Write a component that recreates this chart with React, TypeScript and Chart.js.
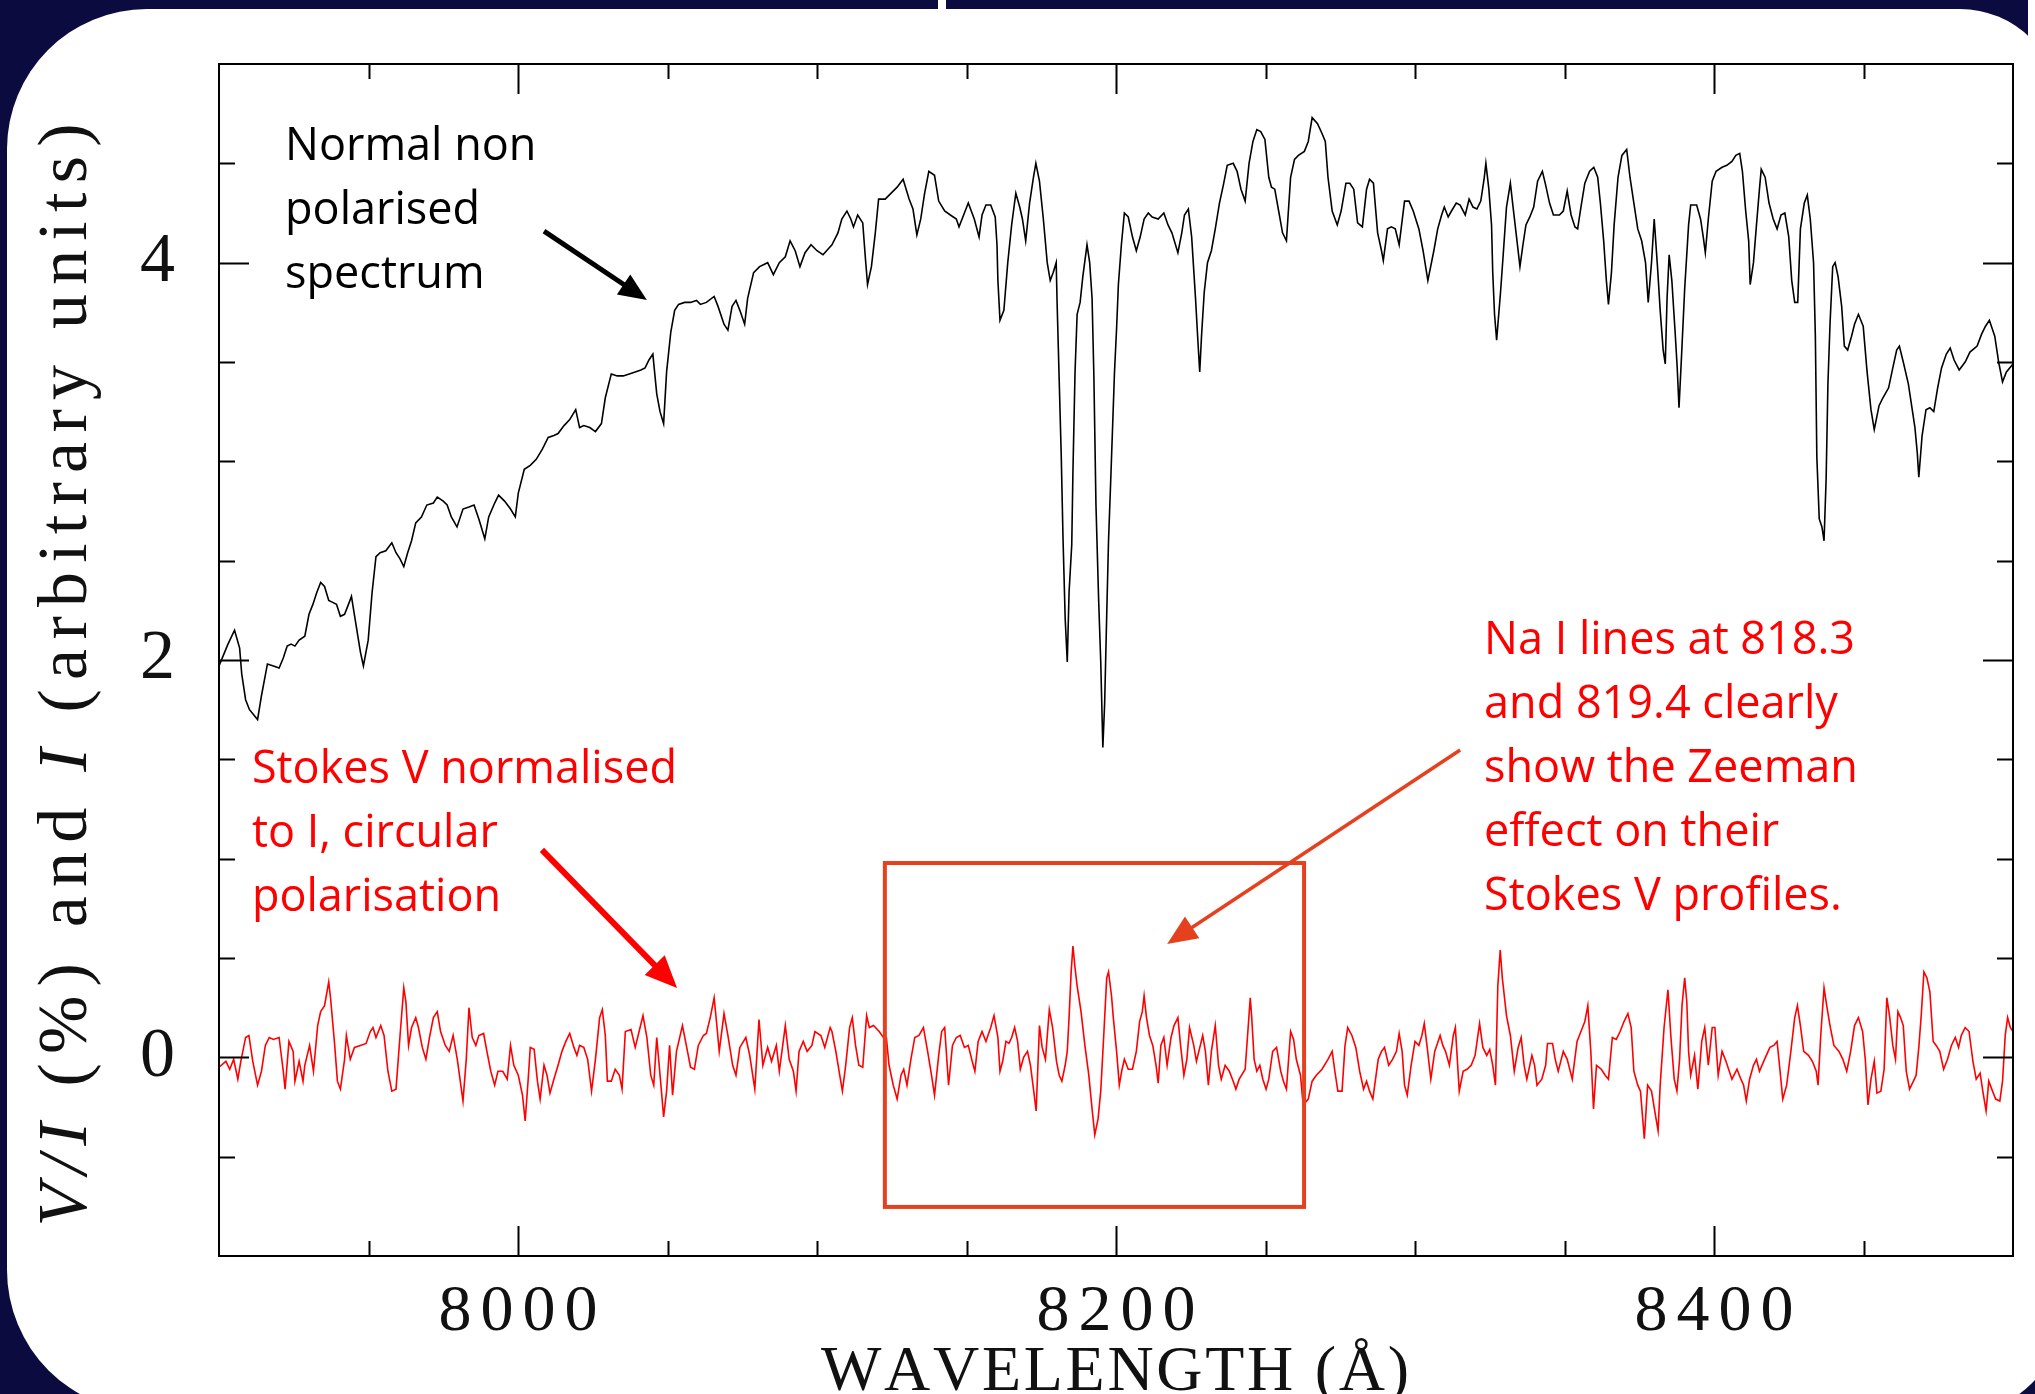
import React, { useEffect, useRef } from 'react';
import { Chart, registerables } from 'chart.js';

Chart.register(...registerables);

// ---------------- DATA ----------------
// Stokes I (normal, non-polarised spectrum): [wavelength (Å), flux (arbitrary units)]
const STOKES_I_BLUE: [number, number][] = [
  [7900, 1.97], [7903, 2.08], [7905.2, 2.15], [7906.9, 2.06], [7907.6, 1.93], [7908.9, 1.8], [7910.2, 1.75], [7912.9, 1.7], [7914.2, 1.82], [7916.2, 1.98],
  [7918.2, 1.97], [7920.1, 1.96], [7921.5, 2.01], [7922.8, 2.07], [7924.1, 2.08], [7925.4, 2.07], [7926.8, 2.1], [7928.7, 2.12], [7930.1, 2.23], [7931.4, 2.28],
  [7932.7, 2.34], [7934, 2.39], [7935.3, 2.37], [7936.7, 2.3], [7938, 2.29], [7939.3, 2.28], [7940.6, 2.22], [7942, 2.23], [7943.3, 2.28], [7944.3, 2.32],
  [7945.9, 2.17], [7947.3, 2.04], [7948.3, 1.97], [7949.9, 2.1], [7951.2, 2.34], [7952.5, 2.52], [7953.9, 2.54], [7955.8, 2.55], [7957.8, 2.59], [7959.2, 2.54],
  [7960.5, 2.51], [7961.8, 2.47], [7963.1, 2.54], [7964.4, 2.6], [7965.8, 2.69], [7967.7, 2.72], [7969.5, 2.78], [7971.7, 2.79], [7973, 2.82], [7975, 2.8],
  [7976.3, 2.78], [7977.7, 2.72], [7979.6, 2.67], [7981.6, 2.76], [7983.6, 2.77], [7985.3, 2.78], [7986.9, 2.71], [7988.9, 2.61], [7990.2, 2.72], [7992.2, 2.79],
  [7993.5, 2.83], [7995.5, 2.8], [7997.5, 2.76], [7999.1, 2.72], [8000.1, 2.84], [8002.1, 2.96], [8004.1, 2.98], [8006.1, 3.01], [8008.1, 3.06], [8010.1, 3.12],
  [8012, 3.13], [8013.4, 3.14], [8015.4, 3.18], [8017.3, 3.21], [8019.3, 3.26], [8020.6, 3.17], [8022, 3.18], [8024, 3.17], [8025.9, 3.15], [8027.9, 3.19],
  [8029.2, 3.32], [8031.2, 3.44], [8033.2, 3.43], [8035.2, 3.43], [8037.2, 3.44], [8039.2, 3.45], [8041.1, 3.46], [8042.5, 3.47], [8043.8, 3.51], [8045.1, 3.54],
  [8046.4, 3.34], [8047.5, 3.25], [8048.7, 3.19], [8049.7, 3.45], [8051.1, 3.65], [8052.4, 3.76], [8053.7, 3.79], [8055.7, 3.8], [8057.7, 3.8], [8059.7, 3.81],
  [8061, 3.79], [8063, 3.8], [8065.6, 3.83], [8066.9, 3.78], [8068.9, 3.69], [8070.2, 3.66], [8071.6, 3.78], [8072.9, 3.81], [8074.2, 3.76], [8075.8, 3.69],
  [8076.8, 3.82], [8078.8, 3.95], [8080.8, 3.98], [8083.5, 4.0], [8085.4, 3.94], [8087.4, 4.0], [8089.4, 4.03], [8091, 4.11], [8092.7, 4.06], [8094.3, 3.98],
  [8096, 4.05], [8098, 4.09], [8100, 4.06], [8102, 4.04],
];

const STOKES_I_MID: [number, number][] = [
  [8105, 4.09], [8107, 4.15], [8108.3, 4.22], [8110, 4.26], [8111.3, 4.22], [8112.2, 4.18], [8113.6, 4.24], [8115.3, 4.2], [8116.2, 4.02], [8116.9, 3.89],
  [8118.2, 3.98], [8119.5, 4.15], [8120.6, 4.32], [8122.8, 4.32], [8124.8, 4.35], [8126.8, 4.38], [8128.8, 4.42], [8130.8, 4.32], [8132.1, 4.27], [8133.4, 4.14],
  [8134.7, 4.22], [8136, 4.35], [8137.4, 4.46], [8139.3, 4.44], [8140.7, 4.31], [8142.7, 4.26], [8144.6, 4.24], [8146.6, 4.22], [8147.5, 4.18], [8149.3, 4.25],
  [8150.6, 4.3], [8152.6, 4.22], [8154.2, 4.13], [8155.2, 4.24], [8156.5, 4.29], [8158.1, 4.29], [8159.6, 4.23], [8160.2, 4.09], [8160.5, 3.91], [8161.2, 3.71],
  [8162.5, 3.76], [8163.8, 4.0], [8165.1, 4.19], [8166.5, 4.35], [8167.8, 4.28], [8168.7, 4.22], [8169.8, 4.11], [8171.1, 4.3], [8172.4, 4.43], [8173.2, 4.5],
  [8174.4, 4.41], [8175.7, 4.22], [8177, 4.0], [8178, 3.91], [8179, 3.95], [8180, 4.0], [8180.3, 3.8], [8181, 3.41], [8181.7, 3.02], [8182.3, 2.6],
  [8183, 2.21], [8183.7, 1.99], [8184.3, 2.34], [8185.2, 2.58], [8185.6, 2.95], [8186.3, 3.45], [8187, 3.74], [8188, 3.8], [8188.9, 3.93], [8190.3, 4.09],
  [8191.2, 4.0], [8192, 3.82], [8192.6, 3.43], [8193.3, 2.78], [8194.2, 2.3], [8194.9, 1.99], [8195.6, 1.56], [8196.2, 1.78], [8196.9, 2.23], [8197.5, 2.6],
  [8198.2, 2.89], [8198.9, 3.19], [8199.5, 3.45], [8200.2, 3.67], [8200.8, 3.89], [8201.8, 4.09], [8202.8, 4.25], [8204.1, 4.23], [8205.5, 4.13], [8206.8, 4.06],
  [8208.1, 4.13], [8209.4, 4.22], [8210.8, 4.25], [8212.1, 4.23], [8214.1, 4.22], [8216, 4.25], [8217.4, 4.19], [8218.7, 4.15], [8220.7, 4.05], [8222, 4.15],
  [8222.9, 4.24], [8224.2, 4.27], [8225.3, 4.13], [8226.6, 3.82], [8227.3, 3.63], [8228, 3.45], [8228.6, 3.63], [8229.5, 3.85], [8230.6, 4.0], [8231.9, 4.06],
  [8233.2, 4.17], [8234.6, 4.3], [8235.9, 4.39], [8237.2, 4.49], [8239.2, 4.5], [8240.5, 4.46], [8241.8, 4.37], [8243.2, 4.31], [8244.5, 4.5], [8245.8, 4.61],
  [8247.1, 4.67], [8248.4, 4.66], [8249.8, 4.62], [8251.1, 4.43], [8252, 4.38], [8253.1, 4.37], [8254.4, 4.26], [8255.7, 4.15], [8257, 4.11], [8258.4, 4.43],
  [8259.7, 4.52], [8261, 4.54], [8263, 4.56], [8264.3, 4.61], [8265.6, 4.73], [8267.4, 4.7], [8268.9, 4.65], [8270, 4.61], [8270.9, 4.43], [8272.3, 4.26],
  [8274, 4.19], [8275.3, 4.26], [8276.9, 4.4], [8278.2, 4.4], [8279.5, 4.37], [8280.8, 4.2], [8282.4, 4.18], [8283.8, 4.37], [8284.8, 4.42], [8286.1, 4.4],
  [8287.5, 4.15], [8288.8, 4.06], [8289.4, 4.01], [8290.8, 4.17], [8292.1, 4.18], [8293.4, 4.17], [8294.7, 4.09], [8296.5, 4.31], [8298, 4.31], [8299.4, 4.26],
  [8301.3, 4.17], [8302.7, 4.06], [8304.3, 3.91],
];

const STOKES_I_RED: [number, number][] = [
  [8306.3, 4.06], [8307.6, 4.17], [8308.9, 4.24], [8309.8, 4.28], [8311.1, 4.23], [8312.2, 4.26], [8313.8, 4.3], [8315.1, 4.29], [8316.8, 4.24], [8318.1, 4.32],
  [8319.4, 4.28], [8320.7, 4.27], [8322, 4.31], [8323.1, 4.42], [8323.7, 4.5], [8324.7, 4.37], [8325.6, 4.19], [8326, 3.95], [8326.6, 3.74], [8327.3, 3.61],
  [8328.6, 3.85], [8329.5, 4.04], [8330.6, 4.28], [8331.9, 4.4], [8332.8, 4.28], [8333.8, 4.15], [8335.1, 3.98], [8336.1, 4.09], [8337.1, 4.19], [8338.4, 4.23],
  [8339.7, 4.28], [8341, 4.41], [8342.6, 4.46], [8343.7, 4.39], [8345, 4.3], [8346.3, 4.24], [8348.3, 4.24], [8349.6, 4.26], [8350.9, 4.36], [8352.2, 4.24],
  [8353.5, 4.18], [8354.4, 4.17], [8355.5, 4.28], [8356.8, 4.4], [8358.4, 4.46], [8359.8, 4.48], [8361.1, 4.43], [8362, 4.3], [8363.1, 4.11], [8364, 3.91],
  [8364.7, 3.79], [8365.7, 3.95], [8366.6, 4.19], [8367.9, 4.43], [8369.2, 4.54], [8370.8, 4.57], [8371.9, 4.43], [8373.2, 4.3], [8374.5, 4.17], [8375.8, 4.11],
  [8377.1, 4.0], [8378, 3.8], [8379.1, 4.0], [8380, 4.22], [8381.1, 3.98], [8382, 3.76], [8383, 3.56], [8383.7, 3.49], [8384.3, 3.82], [8385, 4.04],
  [8385.9, 3.91], [8387, 3.65], [8387.7, 3.47], [8388.3, 3.27], [8389.3, 3.58], [8390.2, 3.87], [8391.5, 4.19], [8392.2, 4.29], [8394.2, 4.29], [8395.5, 4.22],
  [8396.4, 4.13], [8397.1, 4.05], [8398.1, 4.22], [8399.4, 4.41], [8400.7, 4.46], [8402.7, 4.48], [8404.3, 4.49], [8406, 4.51], [8407.3, 4.54], [8408.6, 4.55],
  [8409.5, 4.46], [8410.6, 4.26], [8411.6, 4.11], [8412.1, 3.89], [8413.2, 4.0], [8414.1, 4.17], [8415.2, 4.37], [8415.8, 4.47], [8417.1, 4.43], [8418.4, 4.3],
  [8419.8, 4.22], [8421.1, 4.17], [8422.4, 4.24], [8423.7, 4.25], [8425, 4.13], [8426, 3.91], [8427, 3.8], [8428, 3.8], [8428.9, 4.17], [8430.2, 4.3],
  [8431.2, 4.34], [8432.2, 4.22], [8433.3, 4.0], [8433.9, 3.63], [8434.4, 3.02], [8435.2, 2.71], [8436.1, 2.67], [8436.8, 2.6], [8437.5, 2.91], [8438.1, 3.39],
  [8438.8, 3.69], [8439.7, 3.98], [8440.5, 4.0], [8441.5, 3.93], [8442.7, 3.78], [8443.6, 3.58], [8444.7, 3.56], [8446, 3.63], [8447, 3.69], [8448.3, 3.74],
  [8449.9, 3.68], [8451.2, 3.45], [8452.5, 3.26], [8453.6, 3.16], [8455.2, 3.28], [8456.5, 3.32], [8458.4, 3.37], [8459.8, 3.47], [8461.1, 3.56], [8462, 3.58],
  [8463.3, 3.5], [8465, 3.39], [8466.3, 3.26], [8467.2, 3.17], [8468, 3.04], [8468.5, 2.92], [8469.6, 3.13], [8470.9, 3.26], [8472.2, 3.27], [8473.5, 3.25],
  [8474.8, 3.37], [8476.1, 3.47], [8477.7, 3.54], [8479, 3.57], [8480.3, 3.51], [8482, 3.46], [8484, 3.5], [8485.6, 3.55], [8488, 3.58], [8489.5, 3.64],
  [8490.8, 3.68], [8492.1, 3.71], [8493.9, 3.63], [8495.2, 3.5], [8496.5, 3.4], [8497.8, 3.45], [8500, 3.49],
];

// Stokes V / I (%): [wavelength (Å), V/I]
const STOKES_V_BLUE: [number, number][] = [
  [7900, -0.05], [7902.3, -0.02], [7903.6, -0.06], [7904.9, -0.01], [7906.3, -0.11], [7907.3, -0.02], [7908.9, 0.1], [7910, 0.11], [7911.3, -0.02], [7912.9, -0.14],
  [7914.2, -0.07], [7915.5, 0.06], [7916.8, 0.1], [7918.2, 0.09], [7920.1, 0.1], [7921.5, -0.07], [7922.1, -0.16], [7923.4, 0.08], [7924.8, 0.03], [7925.4, -0.12],
  [7926.8, -0.02], [7928.1, -0.12], [7928.7, -0.04], [7930.3, 0.06], [7931.6, -0.07], [7933, 0.16], [7934, 0.23], [7935.3, 0.26], [7936.7, 0.38], [7937.3, 0.3],
  [7938.7, 0.06], [7939.6, -0.12], [7940.6, -0.16], [7942, -0.01], [7942.6, 0.11], [7943.9, -0.01], [7945.3, 0.05], [7947.3, 0.06], [7949.2, 0.07], [7950.6, 0.13],
  [7951.5, 0.15], [7952.5, 0.1], [7954.1, 0.16], [7955.2, 0.11], [7956.5, -0.07], [7957.8, -0.17], [7959.2, -0.16], [7960.5, 0.1], [7961.8, 0.35], [7962.5, 0.28],
  [7963.4, 0.06], [7964.4, 0.15], [7965.8, 0.2], [7966.7, 0.15], [7968, 0.05], [7969.2, -0.01], [7970.4, 0.1], [7971.7, 0.2], [7973, 0.23], [7974.1, 0.13],
  [7975.7, 0.06], [7977, 0.03], [7978.3, 0.11], [7979.7, -0.01], [7980.6, -0.11], [7981.6, -0.22], [7982.7, -0.01], [7983.6, 0.25], [7984.7, 0.1], [7985.9, 0.06],
  [7986.9, 0.11], [7988.5, 0.12], [7989.6, 0.03], [7990.9, -0.07], [7992.2, -0.14], [7993.3, -0.07], [7994.9, -0.07], [7996.4, -0.11], [7997.5, 0.06], [7998.6, -0.04],
  [8000.1, -0.09], [8001.5, -0.19], [8002.4, -0.32], [8003.5, -0.09], [8004.1, 0.05], [8005.4, 0.04], [8006.5, -0.12], [8007.4, -0.21], [8008.7, -0.04], [8009.7, -0.09],
  [8010.7, -0.18], [8012, -0.11], [8013.4, -0.04], [8014.7, 0.03], [8016, 0.08], [8017.3, 0.12], [8018.7, 0.05], [8019.7, 0.01], [8020.6, 0.06], [8022, 0.05],
  [8023.3, -0.01], [8024.6, -0.17], [8025.9, -0.01], [8027.3, 0.2], [8028.2, 0.24], [8029.2, 0.11], [8029.9, -0.12], [8031.2, -0.12], [8032.5, -0.06], [8033.9, -0.09],
  [8034.8, -0.16], [8035.9, 0.13], [8037.8, 0.14], [8039.2, 0.05], [8040.5, 0.13], [8041.8, 0.21], [8043.1, 0.1], [8044.4, -0.09], [8045.4, -0.14], [8046.4, 0.1],
  [8047.8, -0.14], [8048.7, -0.3], [8049.7, -0.17], [8050.7, 0.06], [8051.7, -0.19], [8053, 0.03], [8055, 0.16], [8056.3, 0.06], [8057.7, -0.05], [8059, -0.06],
  [8060.3, 0.06], [8062, 0.11], [8063, 0.12], [8064.3, 0.2], [8065.6, 0.3], [8066.5, 0.16], [8067.3, 0.03], [8068.9, 0.22], [8070.2, 0.11], [8071.8, -0.04],
  [8072.9, -0.09], [8074.2, 0.05], [8076.2, 0.1], [8077.5, 0.01], [8079.2, -0.16], [8080.6, 0.19], [8081.9, -0.04], [8083.5, 0.05], [8084.8, -0.02], [8086.4, 0.06],
  [8087.4, -0.07], [8089.4, 0.16], [8090.7, -0.01], [8092.1, -0.07], [8093, -0.17], [8094, 0.03], [8095.4, 0.08], [8096.7, 0.03], [8098.3, 0.06], [8099.3, 0.13],
  [8101.3, 0.11], [8102.6, 0.05], [8104.4, 0.15],
];

const STOKES_V_MID: [number, number][] = [
  [8105, 0.13], [8106.3, 0.03], [8107.6, -0.09], [8108.5, -0.17], [8109.6, -0.04], [8110.9, 0.15], [8111.8, 0.2], [8112.9, 0.06], [8114, -0.04], [8115.3, -0.05],
  [8116.6, 0.21], [8117.5, 0.15], [8118.9, 0.16], [8120.8, 0.13], [8122.2, 0.1], [8123.2, 0.1], [8124.1, -0.04], [8125.5, -0.14], [8126.8, -0.21], [8128.1, -0.09],
  [8129, -0.06], [8130.1, -0.14], [8131.4, -0.01], [8132.7, 0.1], [8134.1, 0.11], [8135.6, 0.15], [8137, 0.03], [8138.3, -0.09], [8139.3, -0.19], [8140.7, 0.01],
  [8141.7, 0.13], [8142.7, 0.15], [8144, -0.14], [8145.3, 0.06], [8146.6, 0.1], [8147.9, 0.11], [8149.3, 0.05], [8150.6, 0.06], [8151.9, -0.02], [8152.8, -0.07],
  [8153.9, 0.08], [8155.2, 0.13], [8156.5, 0.08], [8158.1, 0.15], [8159.2, 0.21], [8160.5, 0.1], [8161.2, -0.07], [8162.1, -0.02], [8163.2, 0.08], [8164.2, 0.07],
  [8165.1, 0.1], [8166.1, 0.15], [8167.1, 0.08], [8168, -0.06], [8169.1, 0.0], [8170.4, 0.03], [8171.4, -0.04], [8172.4, -0.16], [8173.3, -0.27], [8174.4, 0.16],
  [8175.3, 0.05], [8176.4, -0.01], [8177.7, 0.24], [8178.8, 0.15], [8180.1, -0.02], [8181, -0.09], [8181.9, -0.12], [8183, -0.04], [8183.7, 0.03], [8184.3, 0.2],
  [8185, 0.43], [8185.6, 0.56], [8186.3, 0.45], [8187, 0.36], [8188.3, 0.23], [8189.6, 0.06], [8190.9, -0.09], [8192, -0.26], [8192.9, -0.39], [8194, -0.31],
  [8194.9, -0.17], [8195.9, 0.11], [8196.9, 0.4], [8197.5, 0.43], [8198.5, 0.31], [8199.1, 0.2], [8200.2, 0.03], [8201.1, -0.14], [8201.9, -0.07], [8202.8, -0.01],
  [8204.1, -0.06], [8205.5, -0.06], [8206.8, 0.03], [8207.9, 0.18], [8208.8, 0.23], [8209.4, 0.31], [8210.2, 0.2], [8211.2, 0.11], [8212.3, 0.06], [8213.4, -0.04],
  [8214.1, -0.13], [8215, 0.06], [8216, 0.1], [8217.1, -0.04], [8218.4, 0.1], [8219.4, 0.16], [8220.7, 0.2], [8221.6, 0.06], [8222.7, -0.09], [8223.7, -0.01],
  [8224.6, 0.15], [8226, 0.06], [8226.9, -0.02], [8228.2, 0.06], [8229, 0.11], [8229.9, 0.03], [8230.9, -0.14], [8231.9, 0.03], [8233.2, 0.16], [8234.3, -0.04],
  [8235.2, -0.11], [8236.5, -0.04], [8237.9, -0.07], [8239.2, -0.12], [8240.1, -0.16], [8241.2, -0.11], [8243.2, -0.06], [8244.1, 0.13], [8244.9, 0.3], [8245.4, 0.2],
  [8246.2, -0.01], [8247.1, -0.07], [8248.1, -0.04], [8249.1, -0.11], [8250.2, -0.16], [8251.1, -0.11], [8252.4, 0.03], [8253.7, 0.05], [8255.1, -0.07], [8256, -0.12],
  [8257, -0.16], [8258.4, 0.13], [8259.4, 0.09], [8260.3, -0.01], [8261.7, -0.09], [8262.6, -0.24], [8264.3, -0.21], [8265.6, -0.12], [8267, -0.09], [8268.9, -0.06],
  [8270.9, -0.01], [8272.3, 0.03], [8273.2, -0.07], [8274.2, -0.17], [8275.6, -0.17], [8276.6, 0.06], [8277.5, 0.15], [8278.9, 0.11], [8280.2, 0.05], [8281.5, -0.07],
  [8282.8, -0.16], [8283.8, -0.12], [8284.8, -0.17], [8285.9, -0.21], [8286.8, -0.11], [8287.7, -0.01], [8288.8, 0.03], [8289.8, 0.05], [8291.2, -0.04], [8292.5, -0.01],
  [8293.8, 0.03], [8294.7, 0.12], [8295.7, 0.03], [8296.5, -0.14], [8297.4, -0.19], [8298.7, -0.04], [8300, 0.08], [8301.3, 0.06], [8302.3, 0.11], [8303.1, 0.17],
  [8304, 0.06], [8305.3, -0.11], [8306.6, 0.03], [8308.4, 0.11],
];

const STOKES_V_RED: [number, number][] = [
  [8309.3, 0.06], [8310.2, 0.03], [8311.5, -0.04], [8312.8, 0.11], [8313.5, 0.15], [8314.8, -0.17], [8316.1, -0.07], [8317.4, -0.06], [8318.8, -0.04], [8320.1, 0.01],
  [8321.6, 0.17], [8322.7, 0.05], [8324, 0.01], [8325, 0.04], [8326, -0.04], [8326.9, -0.14], [8327.7, 0.36], [8328.5, 0.54], [8329.2, 0.4], [8330.6, 0.21],
  [8331.9, 0.11], [8333.2, -0.07], [8334.5, 0.05], [8335.5, 0.1], [8336.5, -0.04], [8337.4, -0.11], [8339.1, 0.01], [8340, -0.04], [8340.8, -0.14], [8342.4, -0.11],
  [8343.7, -0.04], [8344.3, 0.07], [8346, 0.07], [8346.9, -0.01], [8347.9, -0.07], [8349.6, 0.03], [8350.9, -0.01], [8352.6, -0.11], [8354.2, 0.08], [8355.5, 0.13],
  [8356.8, 0.18], [8357.8, 0.26], [8358.8, 0.03], [8359.7, -0.26], [8360.7, -0.04], [8362.3, -0.06], [8363.6, -0.09], [8364.7, -0.11], [8366, 0.1], [8367.3, 0.09],
  [8368.6, 0.13], [8369.9, 0.18], [8371.2, 0.22], [8372.3, 0.15], [8373.2, -0.07], [8374.5, -0.14], [8375.4, -0.17], [8376.7, -0.41], [8377.8, -0.14], [8379.1, -0.17],
  [8380.4, -0.29], [8381.3, -0.37], [8382, -0.14], [8383.3, 0.15], [8384.6, 0.34], [8385.6, 0.1], [8386.7, -0.11], [8387.6, -0.17], [8388.5, -0.01], [8389.3, 0.26],
  [8390.2, 0.4], [8390.9, 0.28], [8391.5, 0.03], [8392.2, -0.09], [8393.5, 0.01], [8394.6, -0.16], [8395.9, 0.08], [8396.9, 0.15], [8398.1, -0.04], [8399.4, 0.15],
  [8400.3, 0.15], [8401.4, -0.09], [8402.7, 0.03], [8404, -0.02], [8406, -0.11], [8407.7, -0.06], [8409, -0.11], [8409.9, -0.14], [8410.8, -0.22], [8411.9, -0.11],
  [8413.2, -0.04], [8414.2, -0.01], [8415.2, -0.07], [8416.9, -0.01], [8418.7, 0.05], [8420, 0.06], [8421.1, 0.08], [8422.1, -0.07], [8423, -0.21], [8424.3, -0.14],
  [8425.7, 0.03], [8427, 0.2], [8427.9, 0.26], [8428.9, 0.16], [8430, 0.03], [8431.6, 0.01], [8432.9, -0.02], [8434.2, -0.07], [8434.8, -0.14], [8435.7, 0.11],
  [8436.8, 0.35], [8437.7, 0.26], [8438.8, 0.16], [8440.1, 0.06], [8441.8, 0.03], [8443.1, -0.01], [8444.4, -0.07], [8445.7, 0.03], [8447, 0.16], [8448.3, 0.2],
  [8449.7, 0.13], [8450.6, -0.01], [8451.5, -0.24], [8452.5, -0.11], [8453.6, -0.02], [8454.5, -0.18], [8455.8, -0.17], [8456.9, -0.06], [8457.8, 0.3], [8458.7, 0.21],
  [8459.8, 0.06], [8460.7, -0.01], [8461.5, 0.23], [8462.4, 0.2], [8463.3, 0.16], [8464.3, -0.07], [8465.4, -0.16], [8466.7, -0.12], [8467.6, -0.09], [8468.5, 0.05],
  [8469.3, 0.21], [8470.2, 0.43], [8471.2, 0.4], [8472.2, 0.33], [8473.3, 0.08], [8474.3, 0.06], [8475.5, 0.03], [8476.8, -0.06], [8478.1, -0.01], [8479.4, 0.06],
  [8480.7, 0.1], [8481.8, 0.05], [8482.7, 0.11], [8484, 0.15], [8485.3, 0.13], [8486.6, -0.02], [8487.7, -0.11], [8489, -0.08], [8489.9, -0.17], [8491, -0.27],
  [8491.9, -0.12], [8492.9, -0.16], [8494.2, -0.21], [8495.6, -0.22], [8496.5, -0.12], [8497.4, 0.11], [8498.2, 0.2], [8499.1, 0.15], [8500, 0.13],
];

const X_TICK_LABELS = [8000, 8200, 8400];
const Y_TICK_LABELS = [0, 2, 4];
const X_TITLE = 'WAVELENGTH (Å)';
const Y_TITLE_PARTS: { text: string; italic: boolean }[] = [
  { text: 'V/I', italic: true },
  { text: ' (%) and ', italic: false },
  { text: 'I', italic: true },
  { text: ' (arbitrary units)', italic: false },
];

// Annotations (text lines, anchored in data units)
const NOTE_SPECTRUM = ['Normal non', 'polarised', 'spectrum'];
const NOTE_STOKES = ['Stokes V normalised', 'to I, circular', 'polarisation'];
const NOTE_NA = ['Na I lines at 818.3', 'and 819.4 clearly', 'show the Zeeman', 'effect on their', 'Stokes V profiles.'];

// ---------------- STYLE ----------------
const NAVY = '#0b0b40';
const RED = '#ff0000';
const ORANGE_RED = '#e6411f';
const SERIF = '"Liberation Serif", "DejaVu Serif", serif';
const SANS = '"Open Sans", "Noto Sans", sans-serif';

function spacedWidth(ctx: CanvasRenderingContext2D, text: string, spacing: number) {
  let w = 0;
  const chars = Array.from(text);
  chars.forEach((c) => (w += ctx.measureText(c).width));
  return w + spacing * (chars.length - 1);
}

function drawSpaced(ctx: CanvasRenderingContext2D, text: string, x: number, y: number, spacing: number, align: 'left' | 'center' | 'right') {
  const total = spacedWidth(ctx, text, spacing);
  let cx = align === 'center' ? x - total / 2 : align === 'right' ? x - total : x;
  ctx.textAlign = 'left';
  Array.from(text).forEach((c) => {
    ctx.fillText(c, cx, y);
    cx += ctx.measureText(c).width + spacing;
  });
}

function drawArrow(ctx: CanvasRenderingContext2D, x1: number, y1: number, x2: number, y2: number, color: string, width: number, headLen: number, headW: number) {
  const ang = Math.atan2(y2 - y1, x2 - x1);
  const bx = x2 - Math.cos(ang) * headLen;
  const by = y2 - Math.sin(ang) * headLen;
  ctx.save();
  ctx.strokeStyle = color;
  ctx.fillStyle = color;
  ctx.lineWidth = width;
  ctx.lineCap = 'butt';
  ctx.beginPath();
  ctx.moveTo(x1, y1);
  ctx.lineTo(bx + Math.cos(ang) * 2, by + Math.sin(ang) * 2);
  ctx.stroke();
  ctx.beginPath();
  ctx.moveTo(x2, y2);
  ctx.lineTo(bx + Math.sin(ang) * headW / 2, by - Math.cos(ang) * headW / 2);
  ctx.lineTo(bx - Math.sin(ang) * headW / 2, by + Math.cos(ang) * headW / 2);
  ctx.closePath();
  ctx.fill();
  ctx.restore();
}

const backgroundPlugin = {
  id: 'slideBackground',
  beforeDraw(chart: any) {
    const { ctx, width, height } = chart;
    ctx.save();
    ctx.fillStyle = NAVY;
    ctx.fillRect(0, 0, width, height);
    const l = 7, t = 9, r = 2060, b = 1412;
    const tl = 140, tr = 100, br = 97, bl = 142;
    ctx.fillStyle = '#ffffff';
    ctx.beginPath();
    ctx.moveTo(l + tl, t);
    ctx.lineTo(r - tr, t);
    ctx.arcTo(r, t, r, t + tr, tr);
    ctx.lineTo(r, b - br);
    ctx.arcTo(r, b, r - br, b, br);
    ctx.lineTo(l + bl, b);
    ctx.arcTo(l, b, l, b - bl, bl);
    ctx.lineTo(l, t + tl);
    ctx.arcTo(l, t, l + tl, t, tl);
    ctx.closePath();
    ctx.fill();
    ctx.fillRect(938, 0, 8, 10);
    ctx.fillRect(2028, 0, 7, 44);
    ctx.restore();
  },
};

const framePlugin = {
  id: 'pgplotFrame',
  afterDraw(chart: any) {
    const { ctx, chartArea } = chart;
    const { left, right, top, bottom } = chartArea;
    const xs = chart.scales.x;
    const ys = chart.scales.y;
    ctx.save();
    // frame
    ctx.strokeStyle = '#000';
    ctx.lineWidth = 2;
    ctx.strokeRect(left, top, right - left, bottom - top);
    // x ticks (inward, bottom & top)
    ctx.beginPath();
    xs.ticks.forEach((t: any) => {
      const v = t.value;
      if (v <= xs.min || v >= xs.max) return;
      const px = Math.round(xs.getPixelForValue(v)) + 0.5;
      const len = Math.round(v) % 200 === 0 ? 30 : 15;
      ctx.moveTo(px, bottom);
      ctx.lineTo(px, bottom - len);
      ctx.moveTo(px, top);
      ctx.lineTo(px, top + len);
    });
    ys.ticks.forEach((t: any) => {
      const v = t.value;
      if (v <= ys.min || v >= ys.max) return;
      const py = Math.round(ys.getPixelForValue(v)) + 0.5;
      const len = Math.round(v * 2) % 4 === 0 ? 30 : 16;
      ctx.moveTo(left, py);
      ctx.lineTo(left + len, py);
      ctx.moveTo(right, py);
      ctx.lineTo(right - len, py);
    });
    ctx.lineWidth = 2;
    ctx.stroke();

    // tick labels
    ctx.fillStyle = '#111';
    ctx.font = `66px ${SERIF}`;
    ctx.textBaseline = 'alphabetic';
    X_TICK_LABELS.forEach((v) => {
      drawSpaced(ctx, String(v), xs.getPixelForValue(v), bottom + 74, 9, 'center');
    });
    ctx.font = `70px ${SERIF}`;
    ctx.textBaseline = 'middle';
    Y_TICK_LABELS.forEach((v) => {
      drawSpaced(ctx, String(v), left - 44, ys.getPixelForValue(v), 0, 'right');
    });

    // x title
    ctx.font = `64px ${SERIF}`;
    ctx.textBaseline = 'alphabetic';
    {
      const target = 588;
      const n = Array.from(X_TITLE).length;
      const natural = spacedWidth(ctx, X_TITLE, 0);
      const sp = (target - natural) / (n - 1);
      drawSpaced(ctx, X_TITLE, (left + right) / 2 - 1, 1390, sp, 'center');
    }

    // y title (rotated, mixed italic)
    {
      const size = 70;
      const chars: { c: string; font: string; w: number }[] = [];
      Y_TITLE_PARTS.forEach((p) => {
        const font = `${p.italic ? 'italic ' : ''}${size}px ${SERIF}`;
        ctx.font = font;
        Array.from(p.text).forEach((c) => chars.push({ c, font, w: ctx.measureText(c).width }));
      });
      const natural = chars.reduce((a, c) => a + c.w, 0);
      const target = 1103;
      const sp = (target - natural) / (chars.length - 1);
      ctx.save();
      ctx.translate(86, 675);
      ctx.rotate(-Math.PI / 2);
      ctx.textAlign = 'left';
      ctx.textBaseline = 'alphabetic';
      let cx = -target / 2;
      chars.forEach((c) => {
        ctx.font = c.font;
        ctx.fillText(c.c, cx, 0);
        cx += c.w + sp;
      });
      ctx.restore();
    }

    // annotations
    const X = (v: number) => xs.getPixelForValue(v);
    const Y = (v: number) => ys.getPixelForValue(v);
    const lineStep = 0.322;
    ctx.font = `45px ${SANS}`;
    ctx.textBaseline = 'middle';
    ctx.textAlign = 'left';
    ctx.fillStyle = '#000';
    NOTE_SPECTRUM.forEach((s, i) => ctx.fillText(s, X(7922.1), Y(4.582 - i * lineStep)));
    ctx.fillStyle = RED;
    NOTE_STOKES.forEach((s, i) => ctx.fillText(s, X(7911.0), Y(1.446 - i * lineStep)));
    NOTE_NA.forEach((s, i) => ctx.fillText(s, X(8323.1), Y(2.096 - i * lineStep)));

    drawArrow(ctx, X(8008.7), Y(4.159), X(8043.1), Y(3.812), '#000', 5, 28, 24);
    drawArrow(ctx, X(8008.0), Y(1.044), X(8053.2), Y(0.349), RED, 6, 32, 28);
    drawArrow(ctx, X(8315.1), Y(1.547), X(8217.1), Y(0.571), ORANGE_RED, 3.5, 30, 26);

    // box around the Na I region
    ctx.strokeStyle = ORANGE_RED;
    ctx.lineWidth = 4;
    const bx1 = X(8122.7), bx2 = X(8262.9), by1 = Y(0.978), by2 = Y(-0.753);
    ctx.strokeRect(bx1, by1, bx2 - bx1, by2 - by1);
    ctx.restore();
  },
};

export default function App() {
  const ref = useRef<HTMLCanvasElement | null>(null);

  useEffect(() => {
    const canvas = ref.current;
    if (!canvas) return;
    const toPts = (arr: [number, number][]) => arr.map(([x, y]) => ({ x, y }));
    const chart = new Chart(canvas, {
      type: 'line',
      data: {
        datasets: [
          {
            label: 'V/I',
            data: toPts([...STOKES_V_BLUE, ...STOKES_V_MID, ...STOKES_V_RED]),
            borderColor: RED,
            borderWidth: 1.6,
            pointRadius: 0,
            tension: 0,
            fill: false,
          },
          {
            label: 'I',
            data: toPts([...STOKES_I_BLUE, ...STOKES_I_MID, ...STOKES_I_RED]),
            borderColor: '#000',
            borderWidth: 1.6,
            pointRadius: 0,
            tension: 0,
            fill: false,
          },
        ],
      },
      options: {
        responsive: false,
        animation: false,
        devicePixelRatio: 1,
        events: [],
        layout: { padding: { left: 0, right: 22, top: 64, bottom: 0 } },
        plugins: { legend: { display: false }, tooltip: { enabled: false }, title: { display: false } },
        scales: {
          x: {
            type: 'linear',
            min: 7900,
            max: 8500,
            ticks: { display: false, stepSize: 50 },
            grid: { display: false },
            border: { display: false },
            afterFit: (s: any) => {
              s.height = 138;
            },
          },
          y: {
            type: 'linear',
            min: -1,
            max: 5,
            ticks: { display: false, stepSize: 0.5 },
            grid: { display: false },
            border: { display: false },
            afterFit: (s: any) => {
              s.width = 219;
            },
          },
        },
      } as any,
      plugins: [backgroundPlugin, framePlugin],
    });
    return () => chart.destroy();
  }, []);

  return (
    <div style={{ position: 'fixed', left: 0, top: 0, width: 2035, height: 1394, background: NAVY, overflow: 'hidden' }}>
      <canvas ref={ref} width={2035} height={1394} style={{ display: 'block', width: 2035, height: 1394 }} />
    </div>
  );
}
